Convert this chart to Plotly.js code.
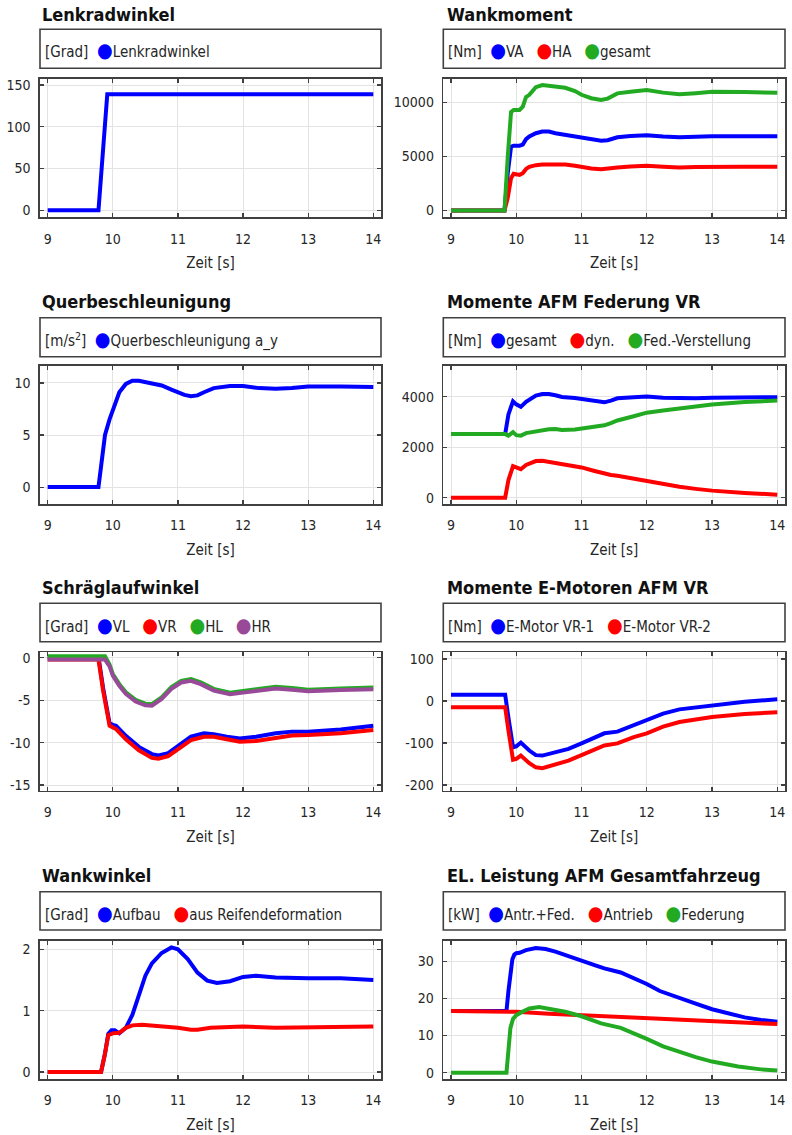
<!DOCTYPE html>
<html><head><meta charset="utf-8">
<script src="https://cdn.plot.ly/plotly-3.0.1.min.js"></script>
<style>html,body{margin:0;padding:0;background:#fff}</style>
</head><body><div id="chart" style="width:792px;height:1135px"></div>
<script>
// ---------- data ----------
const lenkT = [9, 9.78, 9.915, 14];
const lenkY = [0, 0, 139, 139];

const wmT = [9, 9.82, 9.87, 9.92, 9.96, 10.05, 10.1, 10.15, 10.2, 10.3, 10.4, 10.5, 10.6, 10.75, 10.9, 11.0, 11.15, 11.3, 11.4, 11.55, 11.75, 12.0, 12.25, 12.5, 12.75, 13.0, 13.5, 14.0];
const wmVA = [0, 0, 3500, 5900, 6000, 6000, 6100, 6600, 6850, 7150, 7300, 7300, 7150, 6980, 6900, 6760, 6550, 6450, 6500, 6780, 6900, 6970, 6850, 6780, 6830, 6880, 6880, 6880];
const wmHA = [0, 0, 1200, 3000, 3400, 3300, 3450, 3850, 4050, 4200, 4250, 4260, 4260, 4260, 4150, 4040, 3900, 3820, 3850, 3980, 4080, 4140, 4060, 3990, 4020, 4050, 4050, 4050];
const wmGesamt = [0, 0, 5000, 9100, 9300, 9300, 9600, 10500, 10700, 11400, 11600, 11550, 11450, 11350, 11050, 10700, 10380, 10220, 10350, 10830, 10990, 11140, 10900, 10750, 10850, 10980, 10950, 10900];

const qbT = [9, 9.78, 9.82, 9.88, 9.95, 10.0, 10.1, 10.2, 10.3, 10.4, 10.55, 10.75, 10.9, 11.0, 11.1, 11.2, 11.3, 11.4, 11.55, 11.8, 12.0, 12.25, 12.5, 12.75, 13.0, 13.5, 14.0];
const qbY = [0, 0, 2.0, 5.0, 6.5, 7.4, 9.1, 9.9, 10.2, 10.2, 9.97, 9.75, 9.35, 9.1, 8.85, 8.73, 8.8, 9.1, 9.5, 9.7, 9.7, 9.5, 9.43, 9.5, 9.65, 9.65, 9.6];

const afmT = [9, 9.83, 9.88, 9.95, 10.0, 10.07, 10.15, 10.3, 10.4, 10.5, 10.6, 10.7, 10.9, 11.0, 11.2, 11.35, 11.45, 11.55, 11.8, 12.0, 12.25, 12.5, 12.75, 13.0, 13.5, 14.0];
const afmGesamt = [2520, 2520, 3300, 3820, 3700, 3600, 3800, 4050, 4110, 4110, 4060, 3990, 3950, 3910, 3820, 3780, 3850, 3940, 3985, 4010, 3960, 3935, 3945, 3960, 3970, 3985];
const afmDyn = [0, 0, 700, 1250, 1200, 1130, 1300, 1450, 1460, 1420, 1380, 1340, 1260, 1200, 1060, 940, 900, 870, 760, 660, 530, 430, 350, 280, 190, 120];
const afmFed = [2520, 2520, 2460, 2600, 2480, 2460, 2560, 2630, 2680, 2710, 2720, 2680, 2700, 2740, 2800, 2870, 2960, 3060, 3230, 3370, 3460, 3550, 3620, 3690, 3790, 3850];

const slvT = [9, 9.78, 9.85, 9.95, 10.0, 10.05, 10.2, 10.4, 10.6, 10.7, 10.85, 11.0, 11.2, 11.4, 11.55, 11.75, 11.95, 12.2, 12.5, 12.75, 13.0, 13.5, 14.0];
const slVL = [0.1, 0.1, -3.5, -7.7, -7.9, -8.0, -9.2, -10.5, -11.35, -11.5, -11.25, -10.4, -9.3, -8.9, -9.0, -9.3, -9.5, -9.3, -8.9, -8.7, -8.7, -8.45, -8.0];
const slVR = [-0.2, -0.2, -3.8, -8.0, -8.2, -8.4, -9.6, -10.9, -11.8, -11.9, -11.6, -10.8, -9.7, -9.3, -9.3, -9.6, -9.9, -9.8, -9.4, -9.15, -9.1, -8.9, -8.5];
const slhT = [9, 9.88, 9.95, 10.0, 10.1, 10.2, 10.35, 10.5, 10.6, 10.75, 10.9, 11.05, 11.2, 11.35, 11.55, 11.8, 12.0, 12.25, 12.5, 12.75, 13.0, 13.5, 14.0];
const slHL = [0.2, 0.2, -0.8, -1.9, -3.1, -4.05, -4.95, -5.4, -5.45, -4.65, -3.45, -2.7, -2.5, -2.9, -3.65, -4.1, -3.9, -3.6, -3.4, -3.55, -3.75, -3.6, -3.5];
const slHR = [-0.2, -0.2, -1.0, -2.1, -3.3, -4.25, -5.15, -5.6, -5.65, -4.85, -3.65, -2.9, -2.7, -3.1, -3.85, -4.3, -4.1, -3.8, -3.6, -3.75, -3.95, -3.8, -3.7];

const emT = [9, 9.83, 9.88, 9.95, 10.0, 10.07, 10.2, 10.3, 10.4, 10.6, 10.8, 11.0, 11.2, 11.35, 11.55, 11.8, 12.0, 12.25, 12.5, 13.0, 13.5, 14.0];
const emVR1 = [15, 15, -40, -110, -108, -99, -118, -129, -130, -121, -114, -101, -86, -77, -73, -58, -46, -30, -20, -10, -2, 4];
const emVR2 = [-15, -15, -70, -140, -138, -130, -148, -158, -160, -150, -142, -129, -115, -106, -101, -86, -77, -61, -50, -38, -31, -27];

const wwAT = [9, 9.82, 9.88, 9.93, 9.98, 10.03, 10.1, 10.2, 10.3, 10.4, 10.5, 10.6, 10.75, 10.9, 11.0, 11.15, 11.3, 11.45, 11.6, 11.8, 12.0, 12.2, 12.5, 13.0, 13.5, 14.0];
const wwAufbau = [0, 0, 0.3, 0.62, 0.68, 0.68, 0.63, 0.72, 0.93, 1.27, 1.57, 1.77, 1.94, 2.03, 2.0, 1.84, 1.62, 1.49, 1.45, 1.48, 1.55, 1.57, 1.54, 1.53, 1.53, 1.5];
const wwRT = [9, 9.82, 9.88, 9.93, 10.0, 10.1, 10.2, 10.3, 10.45, 10.7, 10.9, 11.0, 11.2, 11.3, 11.5, 11.7, 12.0, 12.5, 13.0, 14.0];
const wwReifen = [0, 0, 0.3, 0.6, 0.63, 0.64, 0.72, 0.76, 0.77, 0.75, 0.74, 0.72, 0.69, 0.69, 0.72, 0.73, 0.74, 0.72, 0.73, 0.74];

const elAFT = [9, 9.85, 9.88, 9.91, 9.94, 9.97, 10.0, 10.05, 10.15, 10.3, 10.45, 10.6, 10.8, 11.0, 11.2, 11.35, 11.6, 11.8, 12.0, 12.2, 12.5, 12.75, 13.0, 13.25, 13.5, 13.75, 14.0];
const elAntrFed = [16.6, 16.6, 22, 27.5, 30.5, 31.8, 32.2, 32.3, 33.0, 33.6, 33.3, 32.6, 31.5, 30.2, 29.0, 28.1, 27.0, 25.5, 23.9, 22.0, 20.0, 18.6, 17.1, 15.9, 14.9, 14.2, 13.7];
const elAnT = [9, 9.8, 10.0, 10.5, 11.0, 11.5, 12.0, 12.5, 13.0, 13.5, 14.0];
const elAntrieb = [16.6, 16.6, 16.4, 15.9, 15.5, 15.0, 14.6, 14.2, 13.8, 13.4, 13.1];
const elFT = [9, 9.85, 9.88, 9.91, 9.95, 10.0, 10.1, 10.2, 10.35, 10.5, 10.75, 11.0, 11.3, 11.6, 11.8, 12.0, 12.25, 12.5, 12.75, 13.0, 13.4, 13.75, 14.0];
const elFederung = [0, 0, 6, 12, 14.5, 15.5, 16.5, 17.3, 17.7, 17.3, 16.4, 15.2, 13.3, 12.1, 10.7, 9.1, 7.1, 5.6, 4.2, 3.0, 1.7, 0.9, 0.6];

const panelTitles = ['Lenkradwinkel', 'Wankmoment', 'Querbeschleunigung', 'Momente AFM Federung VR',
  'Schräglaufwinkel', 'Momente E-Motoren AFM VR', 'Wankwinkel', 'EL. Leistung AFM Gesamtfahrzeug'];
const panelUnits = ['[Grad]', '[Nm]', '[m/s<sup>2</sup>]', '[Nm]', '[Grad]', '[Nm]', '[Grad]', '[kW]'];
const xTicks = [9, 10, 11, 12, 13, 14];
const yTicks = [[0, 50, 100, 150], [0, 5000, 10000], [0, 5, 10], [0, 2000, 4000],
  [-15, -10, -5, 0], [-200, -100, 0, 100], [0, 1, 2], [0, 10, 20, 30]];
const xLabel = 'Zeit [s]';

// ---------- styling ----------
const C = {blue: '#0000ff', red: '#ff0000', green: '#22aa22', purple: '#984a98'};
const F = 'DejaVu Sans Condensed, DejaVu Sans, sans-serif';
const W = 792, H = 1135;
const px = v => v / W, py = v => 1 - v / H;

const series = [
  [{n: 'Lenkradwinkel', x: lenkT, y: lenkY, c: C.blue}],
  [{n: 'VA', x: wmT, y: wmVA, c: C.blue}, {n: 'HA', x: wmT, y: wmHA, c: C.red}, {n: 'gesamt', x: wmT, y: wmGesamt, c: C.green}],
  [{n: 'Querbeschleunigung a_y', x: qbT, y: qbY, c: C.blue}],
  [{n: 'gesamt', x: afmT, y: afmGesamt, c: C.blue}, {n: 'dyn.', x: afmT, y: afmDyn, c: C.red}, {n: 'Fed.-Verstellung', x: afmT, y: afmFed, c: C.green}],
  [{n: 'VL', x: slvT, y: slVL, c: C.blue}, {n: 'VR', x: slvT, y: slVR, c: C.red}, {n: 'HL', x: slhT, y: slHL, c: C.green}, {n: 'HR', x: slhT, y: slHR, c: C.purple}],
  [{n: 'E-Motor VR-1', x: emT, y: emVR1, c: C.blue}, {n: 'E-Motor VR-2', x: emT, y: emVR2, c: C.red}],
  [{n: 'Aufbau', x: wwAT, y: wwAufbau, c: C.blue}, {n: 'aus Reifendeformation', x: wwRT, y: wwReifen, c: C.red}],
  [{n: 'Antr.+Fed.', x: elAFT, y: elAntrFed, c: C.blue}, {n: 'Antrieb', x: elAnT, y: elAntrieb, c: C.red}, {n: 'Federung', x: elFT, y: elFederung, c: C.green}]
];
const yRanges = [[-8.4, 157.2], [-620, 12160], [-1.62, 11.65], [-250, 5232],
  [-15.67, 0.66], [-213.6, 115.8], [-0.114, 2.14], [-1.69, 35.55]];

// geometry (pixels)
const colX = [[40, 381], [443.3, 785]];
const titleX = [40, 445];
const rows = [
  {title: 14, leg: [29.3, 68.3], legText: 50, plot: [79, 217.3]},
  {title: 301.5, leg: [317.7, 356.7], legText: 339, plot: [365.7, 504]},
  {title: 587, leg: [603.3, 641.7], legText: 625, plot: [652.3, 790.7]},
  {title: 875, leg: [891.7, 930], legText: 913, plot: [940.7, 1079]}
];

const data = [], layout = {
  width: W, height: H, margin: {l: 0, r: 0, t: 0, b: 0},
  paper_bgcolor: '#fff', plot_bgcolor: '#fff', showlegend: false,
  font: {family: F, color: '#262626'},
  annotations: [], shapes: []
};
const axCol = '#404040';

series.forEach((ser, i) => {
  const col = i % 2, row = Math.floor(i / 2), k = i + 1;
  const r = rows[row];
  const xs = k === 1 ? 'x' : 'x' + k, ys = k === 1 ? 'y' : 'y' + k;
  ser.forEach(s => data.push({
    type: 'scatter', mode: 'lines', x: s.x, y: s.y, name: s.n,
    xaxis: xs, yaxis: ys, line: {color: s.c, width: 4, shape: 'linear'},
    hoverinfo: 'skip'
  }));
  const common = {
    ticks: 'inside', ticklen: 4, tickwidth: 1.2, tickcolor: axCol,
    showline: true, linecolor: axCol, linewidth: 1.6, mirror: 'ticks',
    showgrid: true, gridcolor: '#e3e3e3', gridwidth: 1, zeroline: false,
    tickfont: {family: F, size: 14, color: '#262626'}, fixedrange: true
  };
  layout['xaxis' + (k === 1 ? '' : k)] = Object.assign({}, common, {
    domain: [px(colX[col][0]), px(colX[col][1])], anchor: ys,
    range: [8.882, 14.118], tickmode: 'array', tickvals: xTicks, ticktext: xTicks.map(String),
    ticklabelstandoff: 8,
    title: {text: xLabel, font: {family: F, size: 15, color: '#262626'}, standoff: 12}
  });
  layout['yaxis' + (k === 1 ? '' : k)] = Object.assign({}, common, {
    domain: [py(r.plot[1]), py(r.plot[0])], anchor: xs,
    range: yRanges[i], tickmode: 'array', tickvals: yTicks[i], ticktext: yTicks[i].map(String),
    ticklabelstandoff: 5
  });
  // title
  layout.annotations.push({
    xref: 'paper', yref: 'paper', x: px(titleX[col]), y: py(r.title), xanchor: 'left', yanchor: 'middle',
    showarrow: false, text: '<b>' + panelTitles[i] + '</b>', font: {family: F, size: 18, color: '#111'}
  });
  // legend box
  layout.shapes.push({
    type: 'rect', xref: 'paper', yref: 'paper',
    x0: px(colX[col][0]), x1: px(colX[col][1]), y0: py(r.leg[1]), y1: py(r.leg[0]),
    line: {color: axCol, width: 1.6}, fillcolor: 'rgba(0,0,0,0)'
  });
  const items = ser.map(s => '<span style="color:' + s.c + ';font-size:20px">\u25CF</span>' + s.n).join('\u00a0\u00a0\u00a0');
  layout.annotations.push({
    xref: 'paper', yref: 'paper', x: px(colX[col][0] + 3), y: py(r.legText), xanchor: 'left', yanchor: 'middle',
    showarrow: false, text: panelUnits[i] + '\u00a0\u00a0' + items, font: {family: F, size: 15, color: '#262626'}
  });
});

Plotly.newPlot('chart', data, layout, {displayModeBar: false, staticPlot: true});
</script></body></html>
